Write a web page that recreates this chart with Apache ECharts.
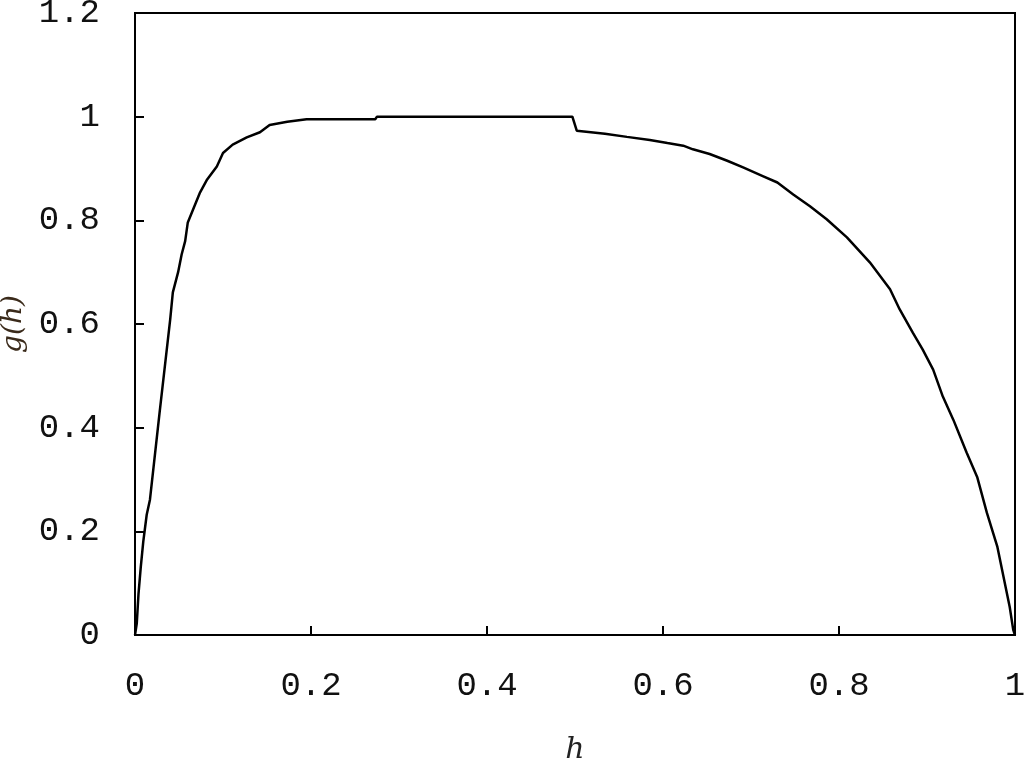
<!DOCTYPE html>
<html>
<head>
<meta charset="utf-8">
<script src="https://cdn.jsdelivr.net/npm/echarts@6/dist/echarts.min.js"></script>
<style>
  html, body { margin: 0; padding: 0; background: #fff; }
  #chart { width: 1024px; height: 767px; }
</style>
</head>
<body>
<div id="chart"></div>
<script>
// h values along the x axis
var hVals = [0, 0.002, 0.004, 0.0065, 0.0094, 0.0133, 0.017, 0.028, 0.040, 0.043,
  0.049, 0.053, 0.057, 0.060, 0.066, 0.074, 0.082, 0.093, 0.100, 0.111,
  0.127, 0.142, 0.153, 0.173, 0.195, 0.273, 0.275, 0.497, 0.502, 0.534,
  0.559, 0.585, 0.605, 0.623, 0.634, 0.653, 0.673, 0.691, 0.714, 0.730,
  0.748, 0.767, 0.786, 0.809, 0.835, 0.858, 0.869, 0.884, 0.895, 0.907,
  0.918, 0.930, 0.945, 0.957, 0.968, 0.980, 0.986, 0.994, 0.998, 1.0];
// g(h)
var gVals = [0, 0.022, 0.08, 0.13, 0.18, 0.232, 0.261, 0.43, 0.609, 0.661,
  0.70, 0.734, 0.76, 0.796, 0.821, 0.854, 0.879, 0.904, 0.93, 0.946,
  0.96, 0.97, 0.984, 0.99, 0.995, 0.995, 1.0, 1.0, 0.973, 0.967,
  0.961, 0.955, 0.949, 0.944, 0.937, 0.928, 0.915, 0.902, 0.885, 0.873,
  0.850, 0.827, 0.802, 0.767, 0.719, 0.667, 0.628, 0.583, 0.551, 0.512,
  0.460, 0.415, 0.352, 0.305, 0.236, 0.170, 0.120, 0.054, 0.010, 0];

var xTicks = [0, 0.2, 0.4, 0.6, 0.8, 1];
var yTicks = [0, 0.2, 0.4, 0.6, 0.8, 1, 1.2];

var tickLabel = function(value) {
  return String(Math.round(value * 10) / 10);
};

var points = [];
for (var i = 0; i < hVals.length; i++) {
  points.push([hVals[i], gVals[i]]);
}

var labelFont = {
  color: '#111',
  fontFamily: 'Liberation Mono',
  fontSize: 34
};

var chart = echarts.init(document.getElementById('chart'));
chart.setOption({
  animation: false,
  grid: {
    left: 135, right: 9, top: 13, bottom: 132,
    outerBoundsMode: 'none',
    containLabel: false,
    show: true,
    borderColor: '#000',
    borderWidth: 2,
    backgroundColor: '#fff'
  },
  xAxis: {
    type: 'value',
    min: xTicks[0], max: xTicks[xTicks.length - 1], interval: 0.2,
    name: 'h',
    nameLocation: 'middle',
    nameGap: 100,
    nameTextStyle: { color: '#222', fontFamily: 'DejaVu Serif', fontStyle: 'italic', fontSize: 30 },
    axisLine: { lineStyle: { color: '#000', width: 2 } },
    axisTick: { inside: true, length: 9, lineStyle: { color: '#000', width: 2 } },
    axisLabel: Object.assign({ margin: 34, formatter: tickLabel }, labelFont),
    splitLine: { show: false }
  },
  yAxis: {
    type: 'value',
    min: yTicks[0], max: yTicks[yTicks.length - 1], interval: 0.2,
    name: 'g(h)',
    nameLocation: 'middle',
    nameGap: 98,
    nameRotate: 90,
    nameTextStyle: { color: '#3a2a1a', fontFamily: 'DejaVu Serif', fontStyle: 'italic', fontSize: 28 },
    axisLine: { lineStyle: { color: '#000', width: 2 } },
    axisTick: { inside: true, length: 9, lineStyle: { color: '#000', width: 2 } },
    axisLabel: Object.assign({ margin: 35, formatter: tickLabel }, labelFont),
    splitLine: { show: false }
  },
  series: [{
    type: 'line',
    data: points,
    showSymbol: false,
    lineStyle: { color: '#000', width: 2.5 },
    z: 3
  }]
});
</script>
</body>
</html>
